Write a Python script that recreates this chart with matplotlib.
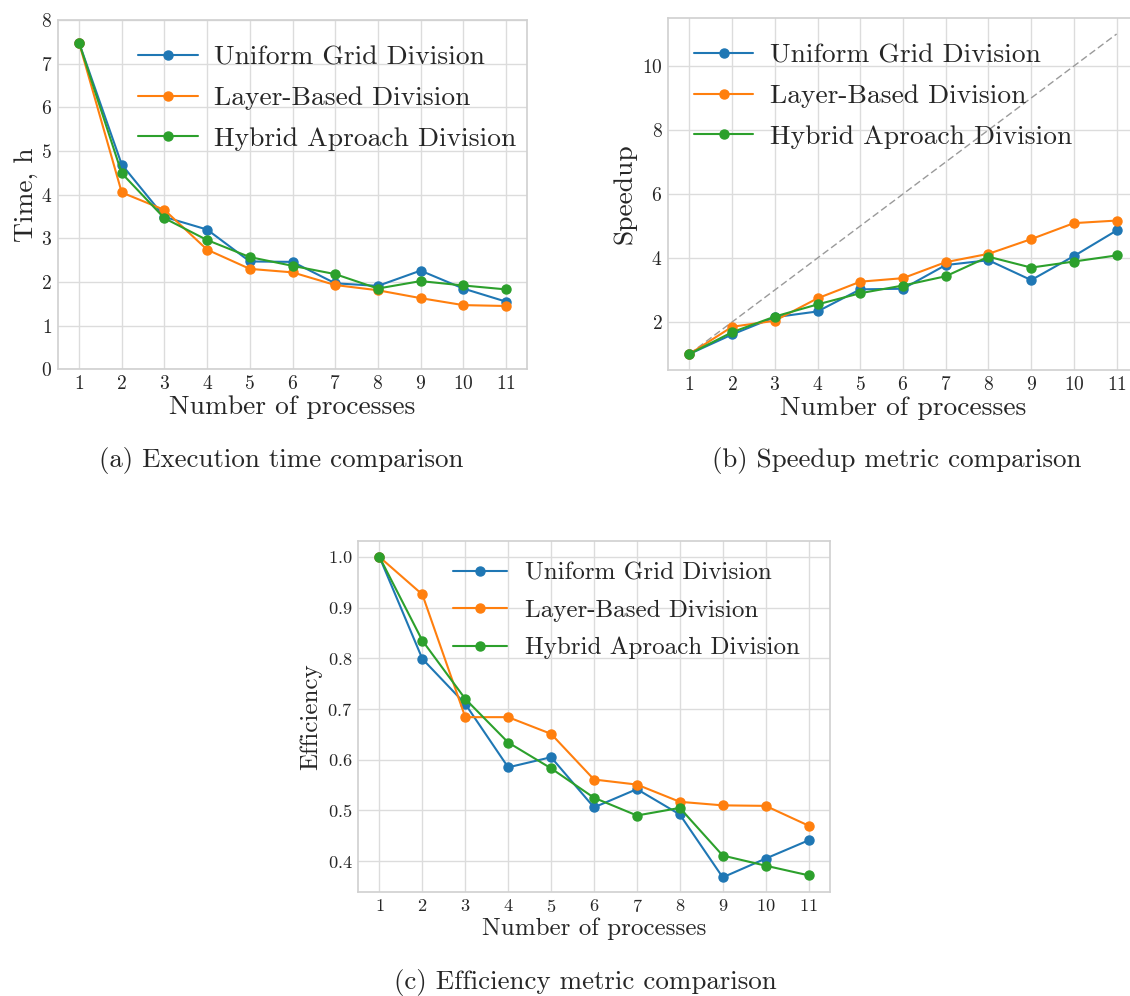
import matplotlib
matplotlib.use("Agg")
import matplotlib.pyplot as plt

plt.style.use("seaborn-v0_8-whitegrid")
plt.rcParams.update({
    "font.family": ["cmr10", "DejaVu Serif"],
    "mathtext.fontset": "cm",
    "axes.formatter.use_mathtext": True,
    "axes.edgecolor": "#d0d0d0",
    "grid.color": "#dcdcdc",
    "axes.linewidth": 1.2,
    "grid.linewidth": 1.0,
})

processes = [1, 2, 3, 4, 5, 6, 7, 8, 9, 10, 11]
labels = ["Uniform Grid Division", "Layer-Based Division", "Hybrid Aproach Division"]
colors = ["#1f77b4", "#ff7f0e", "#2ca02c"]

time_uniform = [7.48, 4.69, 3.49, 3.20, 2.47, 2.46, 1.97, 1.91, 2.26, 1.85, 1.55]
time_layer = [7.48, 4.05, 3.65, 2.74, 2.30, 2.22, 1.93, 1.81, 1.63, 1.47, 1.45]
time_hybrid = [7.48, 4.49, 3.46, 2.96, 2.57, 2.37, 2.18, 1.85, 2.02, 1.92, 1.83]

speedup_uniform = [1.0, 1.61, 2.15, 2.33, 3.02, 3.04, 3.78, 3.93, 3.31, 4.06, 4.86]
speedup_layer = [1.0, 1.85, 2.04, 2.74, 3.26, 3.37, 3.87, 4.13, 4.59, 5.09, 5.17]
speedup_hybrid = [1.0, 1.68, 2.17, 2.55, 2.90, 3.14, 3.43, 4.04, 3.70, 3.89, 4.08]
ideal_speedup = [1, 11]

eff_uniform = [1.0, 0.799, 0.710, 0.585, 0.605, 0.506, 0.542, 0.492, 0.368, 0.405, 0.441]
eff_layer = [1.0, 0.926, 0.684, 0.684, 0.651, 0.561, 0.551, 0.517, 0.510, 0.509, 0.470]
eff_hybrid = [1.0, 0.835, 0.720, 0.634, 0.583, 0.525, 0.490, 0.505, 0.411, 0.391, 0.372]

captions = ["(a) Execution time comparison", "(b) Speedup metric comparison",
            "(c) Efficiency metric comparison"]

W, H = 1130, 996
fig = plt.figure(figsize=(W / 100, H / 100), dpi=100)


def px_axes(left, top, right, bottom):
    return fig.add_axes([left / W, 1 - bottom / H, (right - left) / W, (bottom - top) / H])


def draw(ax, series, big, tick, ylabel, leg_x, leg_y, hl, htp, lsp, ylpad=4):
    for vals, lab, c in zip(series, labels, colors):
        ax.plot(processes, vals, marker="o", color=c, label=lab, lw=1.5, ms=6.5)
    ax.set_xticks(processes)
    ax.set_xlim(0.5, 11.5)
    ax.tick_params(labelsize=tick, pad=4)
    ax.set_xlabel("Number of processes", fontsize=big, labelpad=2)
    ax.set_ylabel(ylabel, fontsize=big, labelpad=ylpad)
    ax.legend(loc="upper left", bbox_to_anchor=(leg_x, leg_y), fontsize=big,
              frameon=False, borderpad=0, borderaxespad=0, handlelength=hl,
              handletextpad=htp, labelspacing=lsp)


ax1 = px_axes(57.7, 20, 527.3, 369.3)
draw(ax1, [time_uniform, time_layer, time_hybrid], 19.8, 14, "Time, h",
     0.172, 0.928, 2.15, 0.6, 0.6, ylpad=2)
ax1.set_ylim(0, 8)

ax2 = px_axes(668, 18, 1138, 370)
ax2.plot(ideal_speedup, ideal_speedup, color="#9a9a9a", lw=1.0, dashes=(5, 2.5))
draw(ax2, [speedup_uniform, speedup_layer, speedup_hybrid], 19.8, 14, "Speedup",
     0.056, 0.928, 2.15, 0.6, 0.6)
ax2.set_ylim(0.5, 11.5)
ax2.set_yticks([2, 4, 6, 8, 10])

ax3 = px_axes(358, 541, 830, 892.3)
draw(ax3, [eff_uniform, eff_layer, eff_hybrid], 18, 13.2, "Efficiency",
     0.201, 0.939, 2.16, 0.72, 0.59)
ax3.set_ylim(0.3385, 1.0315)

fig.text(281 / W, 1 - 460 / H, captions[0], ha="center", va="center", fontsize=19.4)
fig.text(896.5 / W, 1 - 460 / H, captions[1], ha="center", va="center", fontsize=19.4)
fig.text(585 / W, 1 - 982 / H, captions[2], ha="center", va="center", fontsize=19.4)

fig.savefig("out.png", dpi=100)
